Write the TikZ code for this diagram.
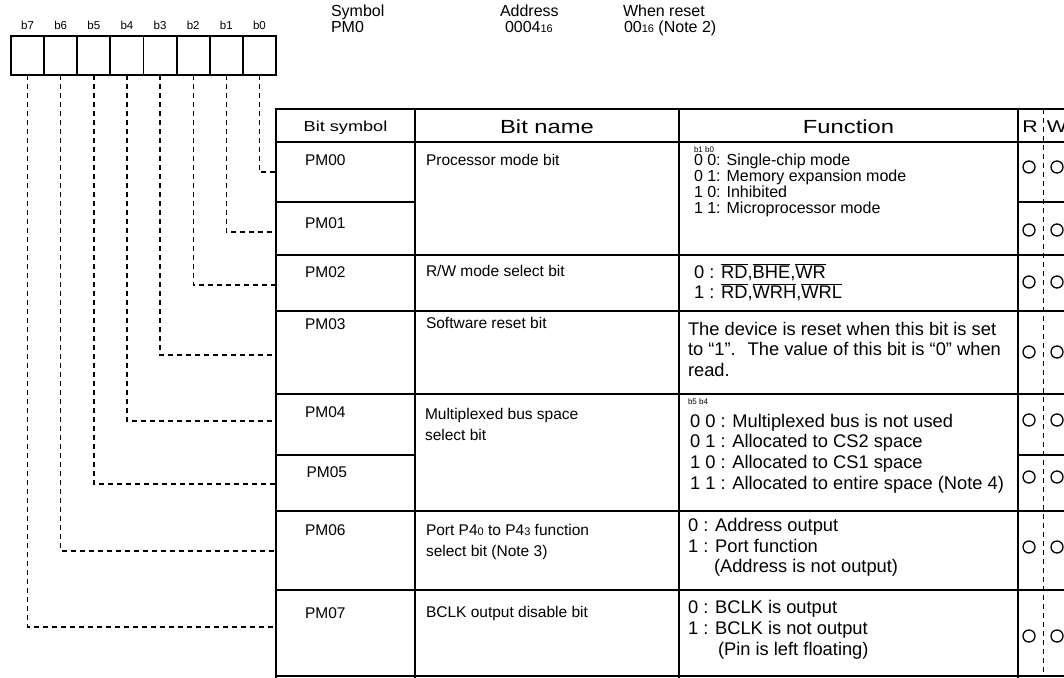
\documentclass[tikz,border=0pt]{standalone}
\usepackage{fontspec}
\setmainfont{Liberation Sans}
\newfontfamily\widefont{Liberation Sans}[FakeStretch=1.25]
\newcommand\myfs[1]{\fontsize{#1}{#1}\selectfont}
\newcommand\ovl[1]{$\overline{\mbox{#1}}$}
\newcommand\smallidx[1]{{\myfs{11}#1}}
\begin{document}
\begin{tikzpicture}[x=1pt,y=-1pt,
  lbl/.style={inner sep=0pt, outer sep=0pt, anchor=base west},
  body/.style={lbl, font=\myfs{15.5}},
  fun/.style={lbl, font=\myfs{18.3}},
  funs/.style={lbl, font=\myfs{16}},
  tinyl/.style={lbl, font=\myfs{8}},
  top/.style={lbl, font=\myfs{16}},
  hdr/.style={inner sep=0pt, anchor=base, font=\widefont\myfs{19}},
  bitbox/.style={draw, line width=1.8pt, minimum width=33.1pt, minimum height=39pt, inner sep=0pt, outer sep=0pt},
  bitlbl/.style={inner sep=0pt, anchor=base, font=\myfs{11.5}},
  tbl/.style={line width=2pt},
  conn/.style={line width=1.4pt, dash pattern=on 5pt off 4pt},
  rwdiv/.style={line width=0.8pt, dash pattern=on 5pt off 4pt},
  okc/.style={draw, circle, line width=1.3pt, minimum size=12pt, inner sep=0pt}
]
\useasboundingbox (0,0) rectangle (1064,677);
\clip (0,0) rectangle (1064,677);

% bit boxes
\foreach \k/\x in {7/27.6,6/60.7,5/93.8,4/126.9,3/160.1,2/193.2,1/226.3,0/259.4}{
  \node[bitbox] (bit\k) at (\x,55.5) {};
  \node[bitlbl] (bl\k) at (\x,30) {b\k};
}

% header texts
\node[top] (symh) at (331,17) {Symbol};
\node[top] (symv) at (331,33) {PM0};
\node[top] (addh) at (500,17) {Address};
\node[top] (addv) at (505,33) {0004\smallidx{16}};
\node[top] (rsth) at (623,17) {When reset};
\node[top] (rstv) at (624,33) {00\smallidx{16} (Note 2)};

% table lines
\draw[tbl] (276,109) -- (1070,109);
\draw[tbl] (276,108) -- (276,678);
\foreach \yy in {142,255,311,394,511,590,676}{\draw[tbl] (276,\yy) -- (1070,\yy);}
\foreach \yy in {202,455}{
  \draw[tbl] (276,\yy) -- (415,\yy);
  \draw[tbl] (1018,\yy) -- (1070,\yy);
}
\foreach \xx in {415,679,1018}{\draw[tbl] (\xx,109) -- (\xx,678);}
\draw[rwdiv] (1043,109) -- (1043,677);

% connector end points
\coordinate (c0) at (276,172);
\coordinate (c1) at (276,232);
\coordinate (c2) at (276,285);
\coordinate (c3) at (276,355);
\coordinate (c4) at (276,421);
\coordinate (c5) at (276,484);
\coordinate (c6) at (276,551);
\coordinate (c7) at (276,627);
\foreach \k in {0,...,7}{\draw[conn] (bit\k.south) |- (c\k);}

% column headers
\node[inner sep=0pt, anchor=base, font=\widefont\myfs{14.5}] (hsym) at (345.5,131) {Bit symbol};
\node[hdr] (hname) at (547,133) {Bit name};
\node[hdr] (hfun) at (848.5,133) {Function};
\node[inner sep=0pt, anchor=base, font=\widefont\myfs{17}] (hr) at (1030,132) {R};
\node[inner sep=0pt, anchor=base, font=\widefont\myfs{17}] (hw) at (1057,132) {W};

% bit symbols
\node[body] (s0) at (305,165) {PM00};
\node[body] (s1) at (305,228) {PM01};
\node[body] (s2) at (305,277) {PM02};
\node[body] (s3) at (305,329) {PM03};
\node[body] (s4) at (305,417) {PM04};
\node[body] (s5) at (306.5,477) {PM05};
\node[body] (s6) at (305,535) {PM06};
\node[body] (s7) at (305,618) {PM07};

% bit names
\node[body] (n0) at (426,165) {Processor mode bit};
\node[body] (n2) at (426,276) {R/W mode select bit};
\node[body] (n3) at (426,328) {Software reset bit};
\node[body] (n4a) at (425,419) {Multiplexed bus space};
\node[body] (n4b) at (425,440) {select bit};
\node[body] (n6a) at (426,535) {Port P4\smallidx{0} to P4\smallidx{3} function};
\node[body] (n6b) at (426,556) {select bit (Note 3)};
\node[body] (n7) at (426,617) {BCLK output disable bit};

% functions
\node[tinyl] (f0t) at (694,152) {b1 b0};
\node[funs] (f0a) at (694,165) {0 0: Single-chip mode};
\node[funs] (f0b) at (694,181.5) {0 1: Memory expansion mode};
\node[funs] (f0c) at (694,197.5) {1 0: Inhibited};
\node[funs] (f0d) at (694,213.5) {1 1: Microprocessor mode};

\node[fun] (f2a) at (694,278) {0 : \ovl{RD},\ovl{BHE},\ovl{WR}};
\node[fun] (f2b) at (694,298) {1 : \ovl{RD},\ovl{WRH},\ovl{WRL}};

\node[fun] (f3a) at (688,335) {The device is reset when this bit is set};
\node[fun] (f3b) at (688,355) {to “1”.~ The value of this bit is “0” when};
\node[fun] (f3c) at (688,376) {read.};

\node[tinyl] (f4t) at (688,404) {b5 b4};
\node[fun] (f4a) at (690,427) {0 0 : Multiplexed bus is not used};
\node[fun] (f4b) at (690,447.5) {0 1 : Allocated to CS2 space};
\node[fun] (f4c) at (690,468) {1 0 : Allocated to CS1 space};
\node[fun] (f4d) at (690,489) {1 1 : Allocated to entire space (Note 4)};

\node[fun] (f6a) at (688,531) {0 : Address output};
\node[fun] (f6b) at (688,552) {1 : Port function};
\node[fun] (f6c) at (714,572.5) {(Address is not output)};

\node[fun] (f7a) at (688,613) {0 : BCLK is output};
\node[fun] (f7b) at (688,634) {1 : BCLK is not output};
\node[fun] (f7c) at (718,655) {(Pin is left floating)};

% R/W marks
\foreach \r/\yy in {0/167,1/230,2/282,3/352,4/420,5/477,6/547,7/636}{
  \node[okc] (r\r) at (1029,\yy) {};
  \node[okc] (w\r) at (1057,\yy) {};
}
\end{tikzpicture}
\end{document}
